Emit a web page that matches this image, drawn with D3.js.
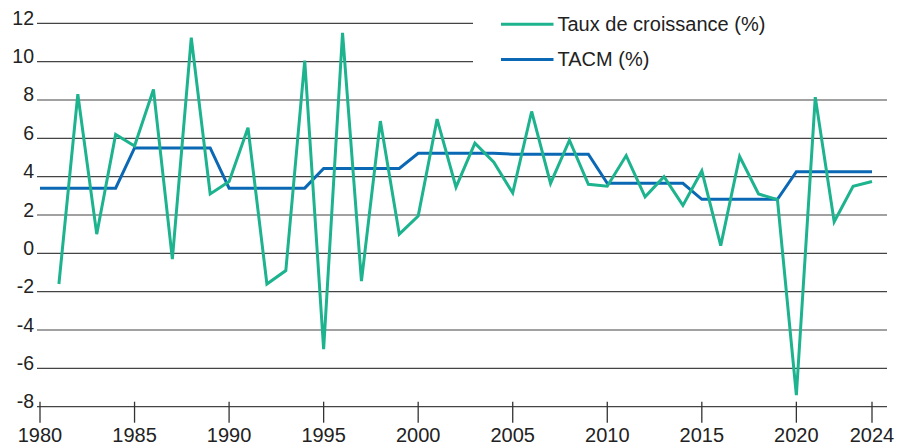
<!DOCTYPE html>
<html><head><meta charset="utf-8">
<script src="https://cdn.jsdelivr.net/npm/d3@7/dist/d3.min.js"></script>
<style>
body{margin:0;background:#fff;}
svg{display:block;font-family:"Liberation Sans",Arial,Helvetica,sans-serif;}
</style></head>
<body><svg id="chart" width="898" height="448"></svg>
<script>
const growthYears = d3.range(1981, 2025);
const growthValues = [-1.6, 8.3, 1.0, 6.2, 5.6, 8.55, -0.3, 11.25, 3.1, 3.75, 6.55, -1.6, -0.9, 10.05, -5.0, 11.5, -1.45, 6.9, 1.0, 1.95, 7.0, 3.45, 5.75, 4.75, 3.15, 7.4, 3.65, 5.9, 3.6, 3.5, 5.1, 2.95, 4.0, 2.5, 4.3, 0.4, 5.05, 3.1, 2.8, -7.4, 8.15, 1.65, 3.5, 3.75];
const tacmYears = d3.range(1980, 2025);
const tacmPeriods = [1980, 1985, 1990, 1995, 2000, 2005, 2010, 2015, 2020];
const tacmPeriodValues = [3.4, 5.5, 3.4, 4.43, 5.22, 5.17, 3.65, 2.82, 4.26];
const xTicks = [1980, 1985, 1990, 1995, 2000, 2005, 2010, 2015, 2020, 2024];
const yTicks = [-8, -6, -4, -2, 0, 2, 4, 6, 8, 10, 12];
const seriesNames = ["Taux de croissance (%)", "TACM (%)"];

const tacmValues = tacmYears.map(y => tacmPeriodValues[d3.bisectRight(tacmPeriods, y) - 1]);

const svg = d3.select("#chart");
const green = "#1db38e", blue = "#0b68b4";
const x = d3.scaleLinear().domain([1980, 2024]).range([40, 872]);
const y = d3.scaleLinear().domain([-8, 12]).range([406.7, 23.3]);

// gridlines
svg.append("g").selectAll("line").data(yTicks).join("line")
  .attr("x1", 37).attr("x2", d => d >= 10 ? 473 : 887)
  .attr("y1", d => y(d)).attr("y2", d => y(d))
  .attr("stroke", "#444").attr("stroke-width", 1.2);

// y labels
svg.append("g").selectAll("text").data(yTicks).join("text")
  .attr("x", 34).attr("y", d => y(d) + 1.5)
  .attr("text-anchor", "end").attr("font-size", 19.5).attr("fill", "#222")
  .text(d => d);

// x axis ticks
svg.append("g").selectAll("line").data(xTicks).join("line")
  .attr("x1", d => x(d)).attr("x2", d => x(d))
  .attr("y1", 401.7).attr("y2", 422.7)
  .attr("stroke", "#333").attr("stroke-width", 1.3);
svg.append("g").selectAll("text").data(xTicks).join("text")
  .attr("x", d => x(d)).attr("y", 442)
  .attr("text-anchor", "middle").attr("font-size", 20).attr("fill", "#222")
  .text(d => d);

// lines
const line = d3.line().x(d => x(d[0])).y(d => y(d[1]));
svg.append("path").datum(tacmYears.map((yr, i) => [yr, tacmValues[i]]))
  .attr("d", line).attr("fill", "none").attr("stroke", blue)
  .attr("stroke-width", 3).attr("stroke-linejoin", "miter");
svg.append("path").datum(growthYears.map((yr, i) => [yr, growthValues[i]]))
  .attr("d", line).attr("fill", "none").attr("stroke", green)
  .attr("stroke-width", 3).attr("stroke-linejoin", "miter");

// legend
const legend = svg.append("g");
[[green, 24.3], [blue, 59.5]].forEach(([c, ly], i) => {
  legend.append("line").attr("x1", 501).attr("x2", 553.5).attr("y1", ly).attr("y2", ly)
    .attr("stroke", c).attr("stroke-width", 3);
  legend.append("text").attr("x", 557.5).attr("y", ly + 6.5)
    .attr("font-size", 20).attr("fill", "#222").text(seriesNames[i]);
});
</script></body></html>
